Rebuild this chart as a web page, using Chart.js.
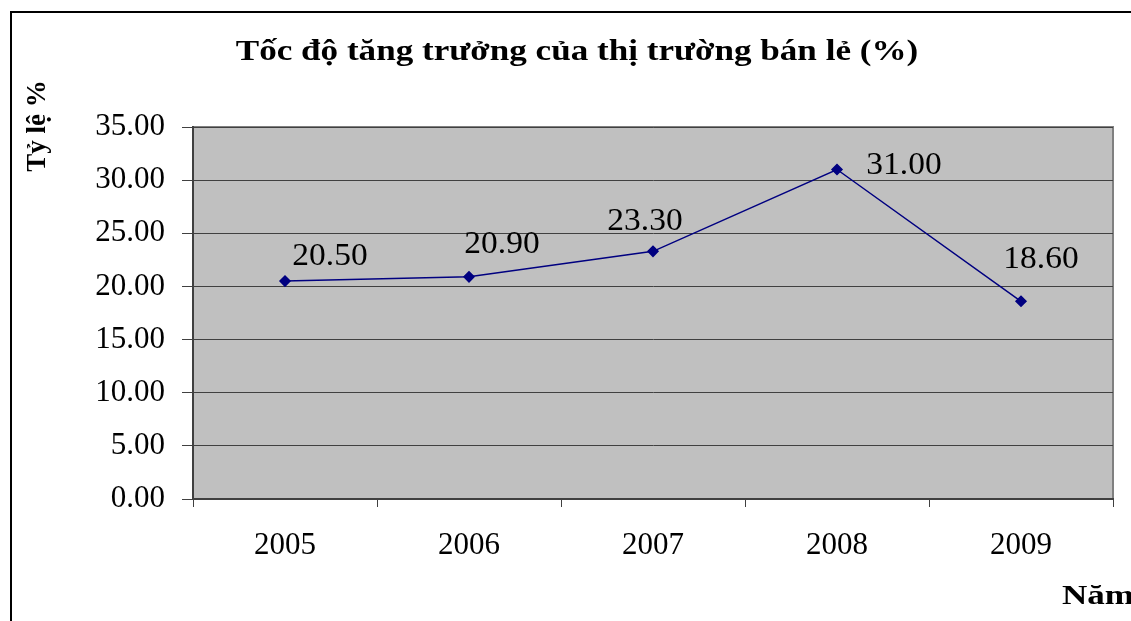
<!DOCTYPE html>
<html>
<head>
<meta charset="utf-8">
<script src="https://cdn.jsdelivr.net/npm/chart.js@4/dist/chart.umd.min.js"></script>
<style>
  html, body { margin: 0; padding: 0; background: #fff; }
  #wrap { width: 1131px; height: 621px; }
</style>
</head>
<body>
<div id="wrap"><canvas id="growthChart" width="1131" height="621"></canvas></div>
<script>
// Du lieu
const years = ['2005', '2006', '2007', '2008', '2009'];
const growthRates = [20.5, 20.9, 23.3, 31.0, 18.6];
const yTicks = [0, 5, 10, 15, 20, 25, 30, 35];

const chartTitle = 'Tốc độ tăng trưởng của thị trường bán lẻ (%)';
const yTitle = 'Tỷ lệ %';
const xTitle = 'Năm';

const serif = "'Liberation Serif', 'Times New Roman', serif";

// vi tri nhan du lieu (lech so voi diem)
const labelShift = [[45, -24], [33, -32], [-8, -29], [67, -4], [20, -41]];

// chu hoi keo gian ngang nhu hinh goc
function stretchedText(ctx, text, x, y, sx) {
  ctx.save();
  ctx.translate(x, y);
  ctx.scale(sx, 1);
  ctx.fillText(text, 0, 0);
  ctx.restore();
}

const frame = {
  id: 'frame',
  beforeDraw(chart) {
    const ctx = chart.ctx;
    const a = chart.chartArea;
    ctx.save();
    ctx.fillStyle = '#fff';
    ctx.fillRect(0, 0, chart.width, chart.height);
    ctx.strokeStyle = '#000';
    ctx.lineWidth = 2;
    ctx.strokeRect(11, 12, chart.width + 50, chart.height + 50);
    ctx.fillStyle = '#c0c0c0';
    ctx.fillRect(a.left, a.top, a.right - a.left, a.bottom - a.top);
    ctx.strokeStyle = '#808080';
    ctx.lineWidth = 2;
    ctx.strokeRect(a.left, a.top, a.right - a.left, a.bottom - a.top);
    ctx.restore();
  },
  afterDraw(chart) {
    const ctx = chart.ctx;
    ctx.save();
    ctx.fillStyle = '#000';
    ctx.font = 'bold 29px ' + serif;
    ctx.textAlign = 'center';
    ctx.textBaseline = 'middle';
    stretchedText(ctx, chartTitle, 577, 53, 1.21);

    ctx.save();
    ctx.translate(38, 126);
    ctx.rotate(-Math.PI / 2);
    ctx.font = 'bold 27px ' + serif;
    ctx.fillText(yTitle, 0, 0);
    ctx.restore();

    ctx.font = 'bold 28px ' + serif;
    ctx.textAlign = 'left';
    stretchedText(ctx, xTitle, 1062, 597, 1.25);
    ctx.restore();
  },
  afterDatasetsDraw(chart) {
    const ctx = chart.ctx;
    const meta = chart.getDatasetMeta(0);
    ctx.save();
    ctx.fillStyle = '#000';
    ctx.font = '31px ' + serif;
    ctx.textAlign = 'center';
    ctx.textBaseline = 'middle';
    meta.data.forEach((pt, i) => {
      const s = labelShift[i];
      stretchedText(ctx, growthRates[i].toFixed(2), pt.x + s[0], pt.y + s[1], 1.08);
    });
    ctx.restore();
  }
};

new Chart(document.getElementById('growthChart'), {
  type: 'line',
  data: {
    labels: years,
    datasets: [{
      data: growthRates,
      borderColor: '#000080',
      backgroundColor: '#000080',
      borderWidth: 1.5,
      pointStyle: 'rectRot',
      pointRadius: 5,
      pointHoverRadius: 5,
      tension: 0
    }]
  },
  options: {
    responsive: false,
    animation: false,
    layout: { padding: { top: 127, right: 18, left: 0, bottom: 0 } },
    plugins: { legend: { display: false }, tooltip: { enabled: false }, title: { display: false } },
    scales: {
      x: {
        offset: true,
        afterFit(s) { s.height = 122; },
        grid: { offset: true, drawOnChartArea: false, drawTicks: true, tickLength: 8, color: '#404040' },
        border: { display: true, color: '#404040', width: 2 },
        ticks: { color: '#000', font: { family: serif, size: 31 }, padding: 20 }
      },
      y: {
        min: 0,
        max: 35,
        afterFit(s) { s.width = 193; },
        afterBuildTicks(s) { s.ticks = yTicks.map(v => ({ value: v })); },
        grid: { color: '#404040', tickLength: 11 },
        border: { display: true, color: '#404040', width: 2 },
        ticks: {
          color: '#000',
          font: { family: serif, size: 31 },
          padding: 17,
          callback: v => Number(v).toFixed(2)
        }
      }
    }
  },
  plugins: [frame]
});
</script>
</body>
</html>
